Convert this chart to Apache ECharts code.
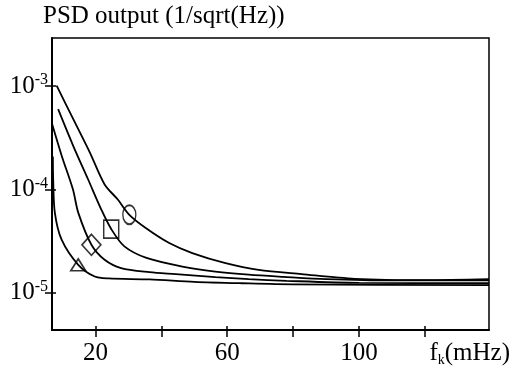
<!DOCTYPE html>
<html>
<head>
<meta charset="utf-8">
<script src="https://cdn.jsdelivr.net/npm/echarts@6/dist/echarts.min.js"></script>
<style>
  html, body { margin: 0; padding: 0; background: #fff; }
  #psd { width: 513px; height: 368px; }
</style>
</head>
<body>
<div id="psd"></div>
<script>
// curves, [f_k (mHz), PSD]
const curveCircle = [
  [8.25, 1.01e-3], [12.8, 5.15e-4], [18.3, 2.29e-4], [22.8, 1.12e-4], [26.8, 8.0e-5],
  [30.3, 5.7e-5], [35.5, 4.2e-5], [42.4, 3.04e-5], [49.4, 2.43e-5],
  [59.5, 1.94e-5], [69.5, 1.67e-5], [82.5, 1.52e-5], [98.7, 1.37e-5],
  [120, 1.33e-5], [139.4, 1.36e-5]
]
const curveSquare = [
  [8.7, 5.98e-4], [13.3, 2.63e-4], [17.8, 1.25e-4], [21.8, 6.4e-5],
  [24.8, 4.15e-5], [28.8, 2.82e-5], [35.5, 2.18e-5], [46.4, 1.80e-5],
  [56.4, 1.61e-5], [66.5, 1.50e-5], [77, 1.43e-5], [90, 1.36e-5], [110, 1.32e-5], [139.4, 1.32e-5]
]
const curveDiamond = [
  [6.9, 4.28e-4], [9.85, 2.09e-4], [13.2, 1.0e-4], [14.8, 5.98e-5], [18.8, 2.92e-5],
  [22.8, 2.09e-5], [27.8, 1.74e-5], [36.4, 1.59e-5], [44.4, 1.52e-5], [56.4, 1.42e-5],
  [66.5, 1.36e-5], [78, 1.31e-5], [100, 1.25e-5], [139.4, 1.24e-5]
]
const curveTriangle = [
  [7.1, 2.09e-4], [7.2, 1.25e-4], [7.7, 5.98e-5], [9.76, 3.27e-5], [14.8, 1.87e-5],
  [19.8, 1.44e-5], [24, 1.38e-5], [36.4, 1.35e-5], [50, 1.28e-5], [64.4, 1.24e-5],
  [80, 1.21e-5], [139.4, 1.19e-5]
]
// one marker on each curve
const markCircle = [[30.3, 5.7e-5]]
const markSquare = [[24.8, 4.15e-5]]
const markDiamond = [[18.8, 2.92e-5]]
const markTriangle = [[14.8, 1.87e-5]]

const xTicks = [20, 40, 60, 80, 100, 120]
const xLabels = [20, 60, 100]
const yTicks = [1e-5, 1e-4, 1e-3]

const serif = 'Liberation Serif'
const chart = echarts.init(document.getElementById('psd'))

const lineSeries = (data) => ({
  type: 'line',
  data: data,
  showSymbol: false,
  smooth: 0.3,
  lineStyle: { color: '#000', width: 1.8 },
  silent: true
})
const markSeries = (data, symbol, size) => ({
  type: 'scatter',
  data: data,
  symbol: symbol,
  symbolSize: size,
  itemStyle: { color: 'transparent', borderColor: '#000', borderWidth: 1.6 },
  z: 3
})

chart.setOption({
  animation: false,
  title: {
    text: 'PSD output (1/sqrt(Hz))',
    left: 43,
    top: 4,
    padding: 0,
    textStyle: { fontFamily: serif, fontSize: 25, fontWeight: 'normal', color: '#000' }
  },
  grid: {
    left: 52, right: 21, top: 38, bottom: 38,
    show: true, borderColor: '#000', borderWidth: 1.5
  },
  xAxis: [
    {
      type: 'value',
      min: 6.84,
      max: 139.4,
      name: '{a|f}{k|k}{a|(mHz)}',
      nameLocation: 'end',
      nameGap: 21,
      nameTextStyle: {
        align: 'right',
        verticalAlign: 'top',
        padding: [9, 0, 0, 0],
        rich: {
          a: { fontFamily: serif, fontSize: 25, color: '#000' },
          k: { fontFamily: serif, fontSize: 14, color: '#000', verticalAlign: 'bottom', padding: [14, 0, 0, 0] }
        }
      },
      axisLine: { lineStyle: { color: '#000', width: 2 } },
      axisTick: { customValues: xTicks, length: 7, lineStyle: { color: '#000', width: 1.5 } },
      axisLabel: { customValues: xLabels, margin: 11, fontFamily: serif, fontSize: 25, color: '#000' },
      splitLine: { show: false }
    },
    {
      type: 'value',
      position: 'bottom',
      min: 6.84,
      max: 139.4,
      axisLine: { show: false },
      axisTick: { customValues: xTicks, inside: true, length: 4, lineStyle: { color: '#000', width: 1.5 } },
      axisLabel: { show: false },
      splitLine: { show: false }
    }
  ],
  yAxis: [
    {
      type: 'log',
      logBase: 10,
      min: 4.38e-6,
      max: 2.92e-3,
      axisLine: { lineStyle: { color: '#000', width: 2 } },
      axisTick: { customValues: yTicks, length: 7, lineStyle: { color: '#000', width: 1.5 } },
      axisLabel: {
        customValues: yTicks,
        margin: 4,
        formatter: (v) => '{b|10}{s|' + Math.round(Math.log10(v)) + '}',
        rich: {
          b: { fontFamily: serif, fontSize: 25, color: '#000' },
          s: { fontFamily: serif, fontSize: 16, color: '#000', verticalAlign: 'top', padding: [0, 0, 12, 0] }
        }
      },
      splitLine: { show: false }
    },
    {
      type: 'log',
      logBase: 10,
      position: 'left',
      min: 4.38e-6,
      max: 2.92e-3,
      axisLine: { show: false },
      axisTick: { customValues: yTicks, inside: true, length: 4, lineStyle: { color: '#000', width: 1.5 } },
      axisLabel: { show: false },
      splitLine: { show: false }
    }
  ],
  series: [
    lineSeries(curveCircle),
    lineSeries(curveSquare),
    lineSeries(curveDiamond),
    lineSeries(curveTriangle),
    markSeries(markCircle, 'circle', [13, 19]),
    markSeries(markSquare, 'rect', [15, 18]),
    markSeries(markDiamond, 'diamond', [19, 21]),
    markSeries(markTriangle, 'triangle', [15, 12])
  ]
})
</script>
</body>
</html>
